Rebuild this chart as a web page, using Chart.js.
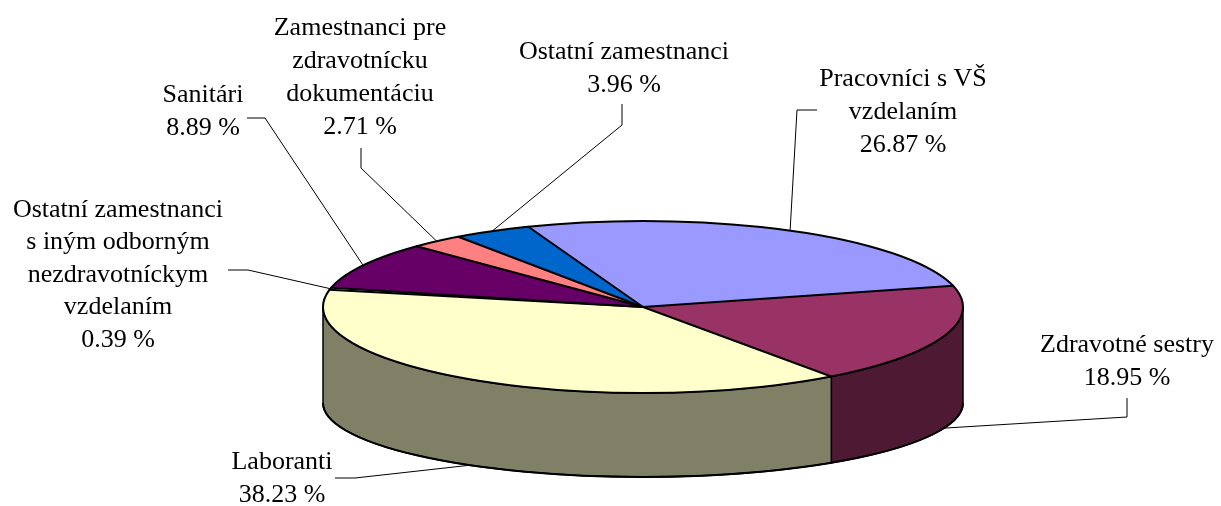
<!DOCTYPE html>
<html>
<head>
<meta charset="utf-8">
<script src="https://cdn.jsdelivr.net/npm/chart.js@4.4.0/dist/chart.umd.min.js"></script>
<style>
  html, body { margin: 0; padding: 0; background: #fff; }
  #wrap { width: 1221px; height: 506px; }
</style>
</head>
<body>
<div id="wrap"><canvas id="staffChart" width="1221" height="506"></canvas></div>
<script>
// Slices in clockwise order, starting with Pracovníci
const CATEGORIES = [
  'Pracovníci s VŠ vzdelaním',
  'Zdravotné sestry',
  'Laboranti',
  'Ostatní zamestnanci s iným odborným nezdravotníckym vzdelaním',
  'Sanitári',
  'Zamestnanci pre zdravotnícku dokumentáciu',
  'Ostatní zamestnanci'
];
const LABEL_LINES = [
  ['Pracovníci s VŠ', 'vzdelaním'],
  ['Zdravotné sestry'],
  ['Laboranti'],
  ['Ostatní zamestnanci', 's iným odborným', 'nezdravotníckym', 'vzdelaním'],
  ['Sanitári'],
  ['Zamestnanci pre', 'zdravotnícku', 'dokumentáciu'],
  ['Ostatní zamestnanci']
];
const SHARES = [26.87, 18.95, 38.23, 0.39, 8.89, 2.71, 3.96];

const TOP_COLORS  = ['#9999FF', '#993366', '#FFFFCC', '#CCFFFF', '#660066', '#FF8080', '#0066CC'];
const SIDE_COLORS = ['#4D4D80', '#4D1933', '#808066', '#668080', '#330033', '#804040', '#003366'];

// Ellipses of the top face and of the bottom rim
const TOP = { cx: 643, cy: 307, rx: 320, ry: 86 };
const BOT = { cx: 643, cy: 403, rx: 320, ry: 74 };

// Label placement (centre x, first line centre y, leader start + elbow)
const LABEL_POS = [
  { x: 903,  y: 79,  pitch: 33,   leader: [[817, 110], [797, 110]] },
  { x: 1127, y: 345, pitch: 33,   leader: [[1127, 398], [1127, 417]] },
  { x: 282,  y: 462, pitch: 33,   leader: [[335, 478], [355, 478]] },
  { x: 118,  y: 210, pitch: 32.5, leader: [[228, 270], [248, 270]] },
  { x: 203,  y: 95,  pitch: 33,   leader: [[247, 118], [265, 118]] },
  { x: 360,  y: 28,  pitch: 33,   leader: [[361, 148], [361, 168]] },
  { x: 624,  y: 52,  pitch: 33,   leader: [[622, 104], [622, 125]] }
];

function ellPoint(e, a) {
  return [e.cx + e.rx * Math.cos(a), e.cy + e.ry * Math.sin(a)];
}

/**
 * Fakes the Excel 3D pie: side walls first, then squashes the
 * library's own arcs into the top ellipse, then outlines + labels.
 */
const pie3d = {
  id: 'pie3d',
  beforeDatasetsDraw(chart) {
    const ctx = chart.ctx;
    const arcs = chart.getDatasetMeta(0).data;

    // visible side walls (front half: canvas angles 0..PI)
    ctx.save();
    ctx.lineJoin = 'round';
    arcs.forEach((arc, i) => {
      const lo = Math.max(arc.startAngle, 0);
      const hi = Math.min(arc.endAngle, Math.PI);
      if (hi <= lo) return;
      const b = ellPoint(BOT, hi);
      ctx.beginPath();
      ctx.ellipse(TOP.cx, TOP.cy, TOP.rx, TOP.ry, 0, lo, hi);
      ctx.lineTo(b[0], b[1]);
      ctx.ellipse(BOT.cx, BOT.cy, BOT.rx, BOT.ry, 0, hi, lo, true);
      ctx.closePath();
      ctx.fillStyle = SIDE_COLORS[i];
      ctx.fill();
      ctx.strokeStyle = '#000';
      ctx.lineWidth = 1.5;
      ctx.stroke();
    });
    // bottom rim, a bit heavier
    ctx.beginPath();
    ctx.ellipse(BOT.cx, BOT.cy, BOT.rx, BOT.ry, 0, 0, Math.PI);
    ctx.lineWidth = 2;
    ctx.stroke();
    ctx.restore();

    // squash the library's circle into the top ellipse
    const a0 = arcs[0];
    const R = a0.outerRadius;
    ctx.save();
    ctx.translate(TOP.cx, TOP.cy);
    ctx.scale(TOP.rx / R, TOP.ry / R);
    ctx.translate(-a0.x, -a0.y);
  },
  afterDatasetsDraw(chart) {
    const ctx = chart.ctx;
    ctx.restore();
    const arcs = chart.getDatasetMeta(0).data;

    ctx.save();
    ctx.strokeStyle = '#000';
    ctx.lineJoin = 'round';
    ctx.lineCap = 'round';
    ctx.lineWidth = 2;
    // radial edges on the top face
    arcs.forEach(arc => {
      const p = ellPoint(TOP, arc.startAngle);
      ctx.beginPath();
      ctx.moveTo(TOP.cx, TOP.cy);
      ctx.lineTo(p[0], p[1]);
      ctx.stroke();
    });
    // rim of the top face
    ctx.beginPath();
    ctx.ellipse(TOP.cx, TOP.cy, TOP.rx, TOP.ry, 0, 0, Math.PI * 2);
    ctx.stroke();
    ctx.restore();
  },
  afterDraw(chart) {
    const ctx = chart.ctx;
    const arcs = chart.getDatasetMeta(0).data;
    ctx.save();
    ctx.font = '26px "Liberation Serif", "Times New Roman", serif';
    ctx.fillStyle = '#000';
    ctx.textAlign = 'center';
    ctx.textBaseline = 'middle';
    ctx.strokeStyle = '#000';
    ctx.lineWidth = 1;

    arcs.forEach((arc, i) => {
      const pos = LABEL_POS[i];
      const lines = LABEL_LINES[i].concat(SHARES[i].toFixed(2) + ' %');
      lines.forEach((t, k) => ctx.fillText(t, pos.x, pos.y + k * pos.pitch));

      // leader to the middle of the slice edge
      const mid = (arc.startAngle + arc.endAngle) / 2;
      const end = Math.sin(mid) > 0 ? ellPoint(BOT, mid) : ellPoint(TOP, mid);
      ctx.beginPath();
      ctx.moveTo(pos.leader[0][0], pos.leader[0][1]);
      ctx.lineTo(pos.leader[1][0], pos.leader[1][1]);
      ctx.lineTo(end[0], end[1]);
      ctx.stroke();
    });
    ctx.restore();
  }
};

new Chart(document.getElementById('staffChart'), {
  type: 'pie',
  data: {
    labels: CATEGORIES,
    datasets: [{
      data: SHARES,
      backgroundColor: TOP_COLORS,
      borderWidth: 0,
      clip: false
    }]
  },
  options: {
    responsive: false,
    animation: false,
    rotation: -21,
    layout: { padding: 0 },
    plugins: {
      legend: { display: false },
      tooltip: { enabled: false }
    }
  },
  plugins: [pie3d]
});
</script>
</body>
</html>
